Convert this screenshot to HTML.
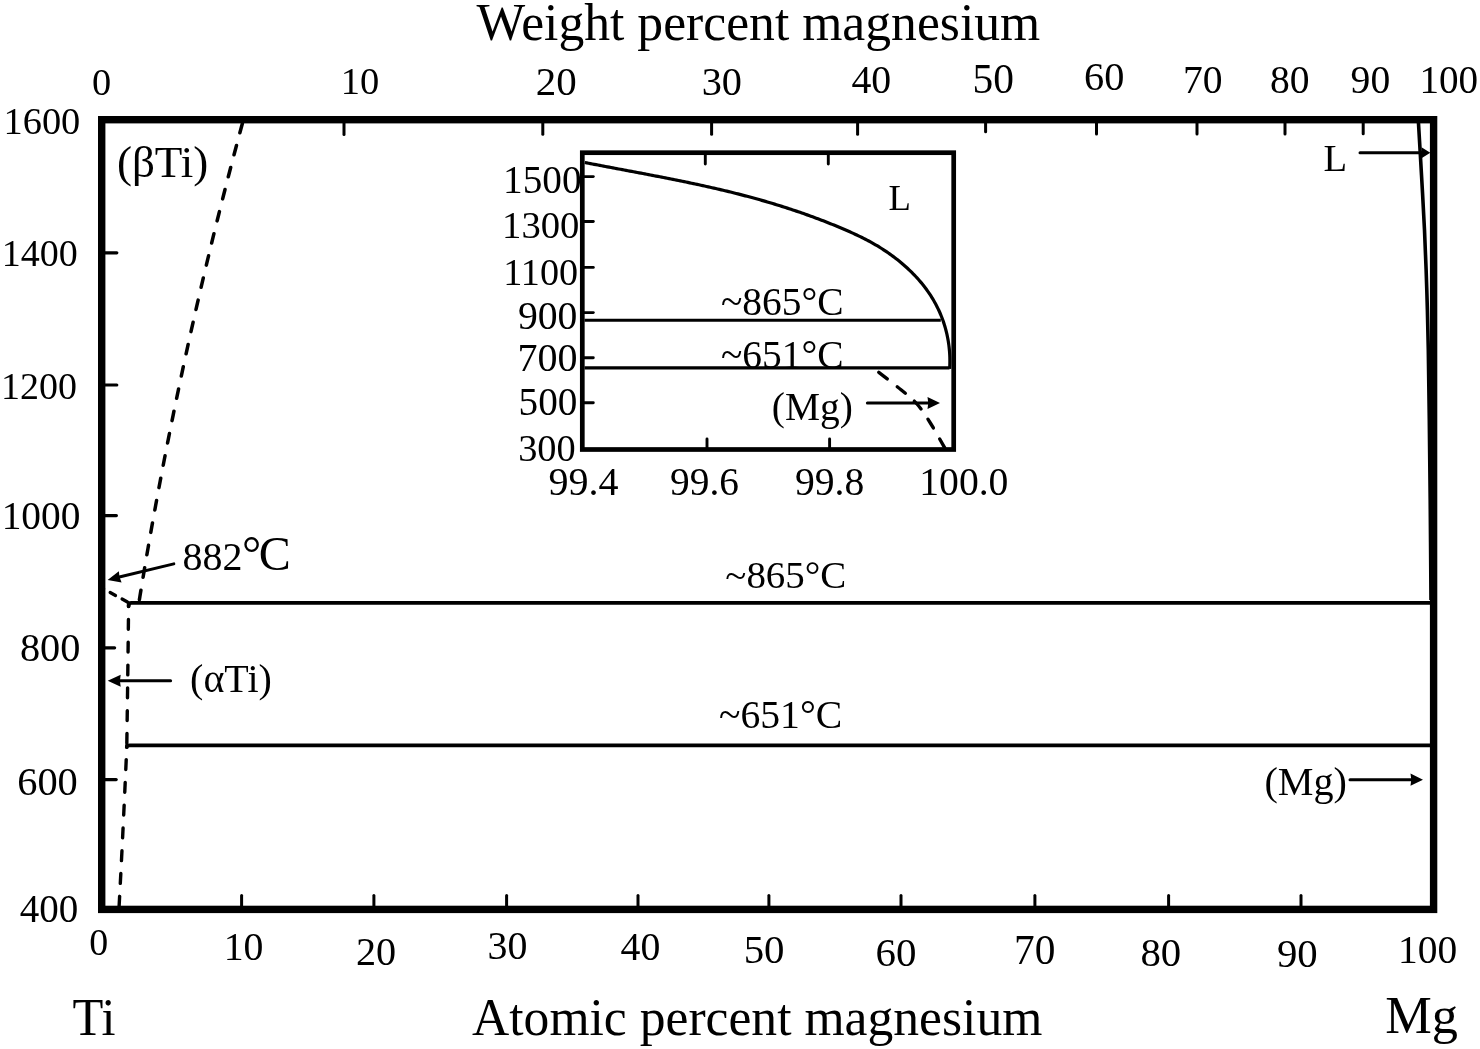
<!DOCTYPE html>
<html><head><meta charset="utf-8"><title>Ti-Mg phase diagram</title>
<style>html,body{margin:0;padding:0;background:#fff;} svg{display:block;}</style></head>
<body>
<svg width="1480" height="1049" viewBox="0 0 1480 1049">
<rect width="1480" height="1049" fill="#fff"/>
<g stroke="#000" fill="#000" font-family="Liberation Serif, Times New Roman, serif">
<line x1="104.00" y1="252.80" x2="116.80" y2="252.80" stroke-width="3.2" stroke-linecap="round" />
<line x1="104.00" y1="385.00" x2="116.80" y2="385.00" stroke-width="3.2" stroke-linecap="round" />
<line x1="104.00" y1="515.60" x2="116.40" y2="515.60" stroke-width="3.2" stroke-linecap="round" />
<line x1="104.00" y1="647.80" x2="114.60" y2="647.80" stroke-width="3.2" stroke-linecap="round" />
<line x1="104.00" y1="779.60" x2="116.20" y2="779.60" stroke-width="3.2" stroke-linecap="round" />
<line x1="344.00" y1="122.00" x2="344.00" y2="134.50" stroke-width="3.0" stroke-linecap="round" />
<line x1="542.80" y1="122.00" x2="542.80" y2="134.30" stroke-width="3.0" stroke-linecap="round" />
<line x1="711.60" y1="122.00" x2="711.60" y2="134.30" stroke-width="3.0" stroke-linecap="round" />
<line x1="857.60" y1="122.00" x2="857.60" y2="134.30" stroke-width="3.0" stroke-linecap="round" />
<line x1="985.60" y1="122.00" x2="985.60" y2="131.80" stroke-width="3.0" stroke-linecap="round" />
<line x1="1096.50" y1="122.00" x2="1096.50" y2="134.00" stroke-width="3.0" stroke-linecap="round" />
<line x1="1197.00" y1="122.00" x2="1197.00" y2="134.00" stroke-width="3.0" stroke-linecap="round" />
<line x1="1285.00" y1="122.00" x2="1285.00" y2="134.00" stroke-width="3.0" stroke-linecap="round" />
<line x1="1363.20" y1="122.00" x2="1363.20" y2="133.80" stroke-width="3.0" stroke-linecap="round" />
<line x1="241.60" y1="907.00" x2="241.60" y2="895.50" stroke-width="3.0" stroke-linecap="round" />
<line x1="373.90" y1="907.00" x2="373.90" y2="895.50" stroke-width="3.0" stroke-linecap="round" />
<line x1="506.60" y1="907.00" x2="506.60" y2="895.50" stroke-width="3.0" stroke-linecap="round" />
<line x1="638.00" y1="907.00" x2="638.00" y2="895.50" stroke-width="3.0" stroke-linecap="round" />
<line x1="768.90" y1="907.00" x2="768.90" y2="895.50" stroke-width="3.0" stroke-linecap="round" />
<line x1="901.00" y1="907.00" x2="901.00" y2="895.50" stroke-width="3.0" stroke-linecap="round" />
<line x1="1034.90" y1="907.00" x2="1034.90" y2="895.50" stroke-width="3.0" stroke-linecap="round" />
<line x1="1168.60" y1="907.00" x2="1168.60" y2="895.50" stroke-width="3.0" stroke-linecap="round" />
<line x1="1301.00" y1="907.00" x2="1301.00" y2="895.50" stroke-width="3.0" stroke-linecap="round" />
<path d="M1431,602.9 L131.5,602.9 Q128.6,602.9 128.6,606.2" fill="none" stroke-width="3.8" stroke-linecap="round" stroke-linejoin="round"/>
<path d="M1431,745.3 L129.8,745.3 Q126.8,745.3 126.8,747.2" fill="none" stroke-width="3.8" stroke-linecap="round" stroke-linejoin="round"/>
<path d="M128.62,603.10 L128.60,604.29 L128.59,605.49 L128.58,606.68 L128.57,607.88 L128.55,609.07 L128.54,610.27 L128.53,611.46 L128.51,612.65 L128.50,613.85 L128.49,615.04 L128.48,616.24 L128.46,617.43 L128.45,618.62 L128.44,619.82 L128.42,621.01 L128.41,622.21 L128.40,623.40 L128.38,624.59 L128.37,625.79 L128.36,626.98 L128.34,628.18 L128.33,629.37 L128.32,630.57 L128.30,631.76 L128.29,632.95 L128.28,634.15 L128.26,635.34 L128.25,636.54 L128.23,637.73 L128.22,638.92 L128.21,640.12 L128.19,641.31 L128.18,642.51 L128.16,643.70 L128.15,644.90 L128.14,646.09 L128.12,647.28 L128.11,648.48 L128.09,649.67 L128.08,650.87 L128.06,652.06 L128.05,653.25 L128.04,654.45 L128.02,655.64 L128.01,656.84 L127.99,658.03 L127.98,659.22 L127.96,660.42 L127.95,661.61 L127.93,662.81 L127.92,664.00 L127.90,665.20 L127.89,666.39 L127.87,667.58 L127.86,668.78 L127.84,669.97 L127.83,671.17 L127.81,672.36 L127.80,673.55 L127.78,674.75 L127.77,675.94 L127.75,677.14 L127.74,678.33 L127.72,679.52 L127.70,680.72 L127.69,681.91 L127.67,683.11 L127.66,684.30 L127.64,685.50 L127.63,686.69 L127.61,687.88 L127.59,689.08 L127.58,690.27 L127.56,691.47 L127.55,692.66 L127.53,693.85 L127.51,695.05 L127.50,696.24 L127.48,697.44 L127.47,698.63 L127.45,699.82 L127.43,701.02 L127.42,702.21 L127.40,703.41 L127.38,704.60 L127.37,705.79 L127.35,706.99 L127.33,708.18 L127.32,709.38 L127.30,710.57 L127.28,711.77 L127.27,712.96 L127.25,714.15 L127.23,715.35 L127.22,716.54 L127.20,717.74 L127.18,718.93 L127.16,720.12 L127.15,721.32 L127.13,722.51 L127.11,723.71 L127.10,724.90 L127.08,726.09 L127.06,727.29 L127.04,728.48 L127.03,729.68 L127.01,730.87 L126.99,732.07 L126.97,733.26 L126.95,734.45 L126.94,735.65 L126.92,736.84 L126.90,738.04 L126.88,739.23 L126.87,740.42 L126.85,741.62 L126.83,742.81 L126.81,744.01 L126.79,745.20" fill="none" stroke-width="3.4" stroke-dasharray="9.8 13" stroke-linecap="round" stroke-dashoffset="6.4"/>
<path d="M126.85,745.20 L126.79,746.58 L126.73,747.95 L126.67,749.33 L126.61,750.71 L126.55,752.09 L126.49,753.46 L126.43,754.84 L126.37,756.22 L126.31,757.59 L126.25,758.97 L126.19,760.35 L126.13,761.72 L126.07,763.10 L126.01,764.48 L125.94,765.85 L125.88,767.23 L125.82,768.61 L125.76,769.98 L125.70,771.36 L125.64,772.74 L125.58,774.11 L125.52,775.49 L125.45,776.87 L125.39,778.24 L125.33,779.62 L125.27,781.00 L125.20,782.37 L125.14,783.75 L125.08,785.13 L125.02,786.50 L124.95,787.88 L124.89,789.26 L124.83,790.63 L124.77,792.01 L124.70,793.39 L124.64,794.76 L124.57,796.14 L124.51,797.52 L124.45,798.89 L124.38,800.27 L124.32,801.65 L124.26,803.02 L124.19,804.40 L124.13,805.78 L124.06,807.15 L124.00,808.53 L123.93,809.91 L123.87,811.28 L123.80,812.66 L123.74,814.03 L123.67,815.41 L123.61,816.79 L123.54,818.16 L123.48,819.54 L123.41,820.92 L123.35,822.29 L123.28,823.67 L123.21,825.05 L123.15,826.42 L123.08,827.80 L123.01,829.18 L122.95,830.55 L122.88,831.93 L122.81,833.31 L122.75,834.68 L122.68,836.06 L122.61,837.44 L122.55,838.81 L122.48,840.19 L122.41,841.56 L122.34,842.94 L122.28,844.32 L122.21,845.69 L122.14,847.07 L122.07,848.45 L122.00,849.82 L121.94,851.20 L121.87,852.58 L121.80,853.95 L121.73,855.33 L121.66,856.71 L121.59,858.08 L121.52,859.46 L121.45,860.83 L121.38,862.21 L121.32,863.59 L121.25,864.96 L121.18,866.34 L121.11,867.72 L121.04,869.09 L120.97,870.47 L120.90,871.84 L120.83,873.22 L120.76,874.60 L120.69,875.97 L120.61,877.35 L120.54,878.73 L120.47,880.10 L120.40,881.48 L120.33,882.86 L120.26,884.23 L120.19,885.61 L120.12,886.98 L120.05,888.36 L119.97,889.74 L119.90,891.11 L119.83,892.49 L119.76,893.87 L119.69,895.24 L119.61,896.62 L119.54,897.99 L119.47,899.37 L119.40,900.75 L119.32,902.12 L119.25,903.50 L119.18,904.87 L119.10,906.25 L119.03,907.63 L118.96,909.00" fill="none" stroke-width="3.4" stroke-dasharray="9.8 13" stroke-linecap="round" stroke-dashoffset="8.3"/>
<path d="M242.39,123.50 L240.75,129.56 L239.12,135.63 L237.50,141.69 L235.89,147.75 L234.28,153.82 L232.69,159.88 L231.10,165.94 L229.52,172.01 L227.95,178.07 L226.39,184.13 L224.84,190.20 L223.29,196.26 L221.76,202.32 L220.23,208.39 L218.71,214.45 L217.20,220.51 L215.70,226.58 L214.20,232.64 L212.72,238.70 L211.24,244.77 L209.77,250.83 L208.31,256.89 L206.86,262.96 L205.41,269.02 L203.98,275.08 L202.55,281.15 L201.13,287.21 L199.72,293.27 L198.32,299.34 L196.92,305.40 L195.54,311.46 L194.16,317.53 L192.79,323.59 L191.43,329.65 L190.08,335.72 L188.74,341.78 L187.40,347.84 L186.08,353.91 L184.76,359.97 L183.45,366.03 L182.15,372.09 L180.86,378.16 L179.57,384.22 L178.30,390.28 L177.03,396.35 L175.77,402.41 L174.52,408.47 L173.27,414.54 L172.04,420.60 L170.81,426.66 L169.60,432.73 L168.39,438.79 L167.19,444.85 L166.00,450.92 L164.81,456.98 L163.64,463.04 L162.47,469.11 L161.31,475.17 L160.16,481.23 L159.02,487.30 L157.89,493.36 L156.76,499.42 L155.64,505.49 L154.54,511.55 L153.44,517.61 L152.34,523.68 L151.26,529.74 L150.19,535.80 L149.12,541.87 L148.06,547.93 L147.01,553.99 L145.97,560.06 L144.94,566.12 L143.92,572.18 L142.90,578.25 L141.89,584.31 L140.89,590.37 L139.90,596.44 L138.92,602.50" fill="none" stroke-width="3.5" stroke-dasharray="9.6 13.15" stroke-dashoffset="22.7" stroke-linecap="round"/>
<path d="M101,587.5 L128.4,602.5" fill="none" stroke-width="3.3" stroke-dasharray="6.1 7.5" stroke-dashoffset="3.15" stroke-linecap="round"/>
<path d="M1418.30,120.00 C1418.83,129.17 1420.47,156.67 1421.50,175.00 C1422.53,193.33 1423.62,210.83 1424.50,230.00 C1425.38,249.17 1426.17,270.00 1426.80,290.00 C1427.43,310.00 1427.88,328.33 1428.30,350.00 C1428.72,371.67 1428.98,395.00 1429.30,420.00 C1429.62,445.00 1429.92,470.00 1430.20,500.00 C1430.48,530.00 1430.87,583.33 1431.00,600.00" fill="none" stroke-width="3.6" stroke-linecap="butt"/>
<line x1="173.80" y1="563.90" x2="118.29" y2="577.32" stroke-width="3.0" stroke-linecap="round" />
<polygon points="107.60,579.90 118.87,571.21 119.48,577.03 121.60,582.48" stroke="none" fill="#000"/>
<line x1="170.60" y1="680.80" x2="118.70" y2="680.80" stroke-width="3.0" stroke-linecap="round" />
<polygon points="107.70,680.80 120.70,674.80 119.92,680.80 120.70,686.80" stroke="none" fill="#000"/>
<line x1="1360.00" y1="152.70" x2="1423.50" y2="152.70" stroke-width="3.0" stroke-linecap="round" />
<polygon points="1430.30,152.70 1421.50,158.20 1422.03,152.70 1421.50,147.20" stroke="none" fill="#000"/>
<line x1="1350.00" y1="779.70" x2="1412.50" y2="779.70" stroke-width="3.0" stroke-linecap="round" />
<polygon points="1423.00,779.70 1410.50,785.80 1411.25,779.70 1410.50,773.60" stroke="none" fill="#000"/>
<rect x="101.7" y="119.7" width="1331.90" height="789.70" fill="none" stroke-width="7.4" stroke-linejoin="miter"/>
<rect x="585" y="155" width="366" height="292" fill="#fff" stroke="none"/>
<line x1="583.00" y1="176.60" x2="593.30" y2="176.60" stroke-width="2.9" stroke-linecap="round" />
<line x1="583.00" y1="221.50" x2="593.30" y2="221.50" stroke-width="2.9" stroke-linecap="round" />
<line x1="583.00" y1="267.40" x2="593.30" y2="267.40" stroke-width="2.9" stroke-linecap="round" />
<line x1="583.00" y1="312.60" x2="593.30" y2="312.60" stroke-width="2.9" stroke-linecap="round" />
<line x1="583.00" y1="357.80" x2="593.30" y2="357.80" stroke-width="2.9" stroke-linecap="round" />
<line x1="583.00" y1="402.70" x2="593.30" y2="402.70" stroke-width="2.9" stroke-linecap="round" />
<line x1="705.30" y1="154.00" x2="705.30" y2="164.00" stroke-width="2.9" stroke-linecap="round" />
<line x1="828.30" y1="154.00" x2="828.30" y2="164.00" stroke-width="2.9" stroke-linecap="round" />
<line x1="707.00" y1="448.00" x2="707.00" y2="439.00" stroke-width="2.9" stroke-linecap="round" />
<line x1="829.60" y1="448.00" x2="829.60" y2="439.00" stroke-width="2.9" stroke-linecap="round" />
<line x1="584.50" y1="320.30" x2="940.80" y2="320.30" stroke-width="3.1" stroke-linecap="butt" />
<line x1="584.50" y1="367.90" x2="949.50" y2="367.90" stroke-width="3.1" stroke-linecap="butt" />
<path d="M584.83,162.52 L586.70,162.89 L588.57,163.25 L590.44,163.61 L592.32,163.97 L594.19,164.33 L596.06,164.69 L597.94,165.05 L599.81,165.41 L601.68,165.76 L603.56,166.12 L605.43,166.48 L607.31,166.83 L609.18,167.18 L611.05,167.54 L612.93,167.89 L614.80,168.25 L616.68,168.60 L618.55,168.95 L620.43,169.30 L622.30,169.66 L624.18,170.01 L626.05,170.36 L627.93,170.72 L629.80,171.07 L631.68,171.42 L633.55,171.78 L635.43,172.13 L637.30,172.48 L639.18,172.84 L641.05,173.19 L642.92,173.55 L644.80,173.91 L646.67,174.26 L648.55,174.62 L650.42,174.98 L652.29,175.34 L654.17,175.70 L656.04,176.06 L657.91,176.43 L659.78,176.79 L661.65,177.16 L663.53,177.52 L665.40,177.89 L667.27,178.26 L669.14,178.63 L671.01,179.00 L672.88,179.38 L674.75,179.75 L676.62,180.13 L678.48,180.51 L680.35,180.89 L682.22,181.27 L684.09,181.66 L685.95,182.04 L687.82,182.43 L689.68,182.82 L691.55,183.21 L693.41,183.61 L695.28,184.01 L697.14,184.41 L699.00,184.81 L700.86,185.21 L702.72,185.62 L704.58,186.03 L706.44,186.44 L708.30,186.86 L710.16,187.28 L712.02,187.70 L713.87,188.12 L715.73,188.55 L717.59,188.98 L719.44,189.41 L721.29,189.85 L723.15,190.28 L725.00,190.73 L726.85,191.17 L728.70,191.62 L730.55,192.07 L732.40,192.53 L734.24,192.99 L736.09,193.45 L737.94,193.92 L739.78,194.39 L741.62,194.87 L743.47,195.34 L745.31,195.83 L747.15,196.31 L748.99,196.80 L750.83,197.30 L752.66,197.80 L754.50,198.30 L756.33,198.81 L758.17,199.32 L760.00,199.83 L761.83,200.35 L763.66,200.88 L765.49,201.41 L767.32,201.94 L769.15,202.48 L770.97,203.02 L772.80,203.57 L774.62,204.12 L776.44,204.68 L778.26,205.24 L780.08,205.81 L781.90,206.38 L783.71,206.95 L785.53,207.53 L787.34,208.12 L789.15,208.71 L790.96,209.30 L792.77,209.90 L794.58,210.50 L796.39,211.11 L798.19,211.73 L800.00,212.35 L801.80,212.97 L803.60,213.60 L805.40,214.23 L807.19,214.87 L808.99,215.52 L810.78,216.17 L812.58,216.82 L814.37,217.48 L816.16,218.14 L817.94,218.82 L819.73,219.49 L821.51,220.17 L823.30,220.86 L825.08,221.55 L826.86,222.24 L828.64,222.95 L830.41,223.65 L832.18,224.37 L833.96,225.09 L835.73,225.81 L837.50,226.54 L839.26,227.27 L841.03,228.01 L842.79,228.76 L844.55,229.51 L846.31,230.27 L848.06,231.04 L849.82,231.82 L851.56,232.60 L853.31,233.39 L855.05,234.19 L856.78,235.01 L858.51,235.83 L860.23,236.67 L861.95,237.51 L863.66,238.37 L865.37,239.24 L867.07,240.13 L868.76,241.03 L870.44,241.94 L872.12,242.87 L873.79,243.81 L875.45,244.77 L877.10,245.74 L878.74,246.73 L880.37,247.74 L882.00,248.76 L883.61,249.80 L885.21,250.85 L886.80,251.92 L888.38,253.00 L889.95,254.10 L891.51,255.22 L893.05,256.35 L894.58,257.49 L896.10,258.65 L897.60,259.83 L899.09,261.02 L900.57,262.22 L902.03,263.45 L903.47,264.68 L904.90,265.94 L906.32,267.20 L907.72,268.49 L909.10,269.79 L910.47,271.10 L911.81,272.43 L913.15,273.77 L914.46,275.13 L915.75,276.50 L917.03,277.89 L918.29,279.30 L919.53,280.72 L920.75,282.15 L921.95,283.60 L923.12,285.07 L924.28,286.55 L925.42,288.04 L926.53,289.55 L927.63,291.08 L928.70,292.62 L929.75,294.17 L930.77,295.74 L931.77,297.33 L932.75,298.93 L933.71,300.54 L934.64,302.17 L935.54,303.82 L936.42,305.48 L937.28,307.15 L938.11,308.84 L938.91,310.54 L939.69,312.26 L940.44,313.99 L941.16,315.74 L941.86,317.50 L942.52,319.28 L943.16,321.07 L943.77,322.87 L944.36,324.69 L944.91,326.52 L945.44,328.36 L945.94,330.21 L946.41,332.07 L946.85,333.94 L947.26,335.82 L947.64,337.71 L948.00,339.61 L948.32,341.52 L948.61,343.44 L948.88,345.37 L949.11,347.30 L949.31,349.24 L949.48,351.19 L949.63,353.14 L949.74,355.10 L949.82,357.07 L949.86,359.04 L949.88,361.01 L949.87,362.99 L949.82,364.97 L949.74,366.96 L949.63,368.95" fill="none" stroke-width="3.2" stroke-linecap="butt" stroke-linejoin="round"/>
<path d="M877.00,371.00 C881.00,374.12 894.33,384.25 901.00,389.75 C907.67,395.25 912.08,398.42 917.00,404.00 C921.92,409.58 925.87,415.92 930.50,423.25 C935.13,430.58 942.42,443.88 944.80,448.00" fill="none" stroke-width="3.4" stroke-dasharray="10.3 12.4" stroke-dashoffset="-2.7" stroke-linecap="round"/>
<line x1="867.40" y1="403.00" x2="929.50" y2="403.00" stroke-width="3.0" stroke-linecap="round" />
<polygon points="940.00,403.00 927.50,409.00 928.25,403.00 927.50,397.00" stroke="none" fill="#000"/>
<rect x="582.3" y="152.7" width="371.40" height="296.80" fill="none" stroke-width="4.7"/>
<text stroke="none" transform="translate(476.60,40.40) scale(1,1.035)" font-size="51.65" >Weight percent magnesium</text>
<text stroke="none" transform="translate(471.98,1034.90) scale(1,1.035)" font-size="51.62" >Atomic percent magnesium</text>
<text stroke="none" transform="translate(72.52,1035.30) scale(1,1.060)" font-size="50.52" >Ti</text>
<text stroke="none" x="1385.26" y="1033.20" font-size="52.36" >Mg</text>
<text stroke="none" x="92.11" y="94.62" font-size="38.37" >0</text>
<text stroke="none" x="340.83" y="93.61" font-size="38.51" >10</text>
<text stroke="none" x="535.86" y="94.69" font-size="40.98" >20</text>
<text stroke="none" x="701.68" y="94.70" font-size="40.33" >30</text>
<text stroke="none" x="851.40" y="93.10" font-size="39.79" >40</text>
<text stroke="none" x="972.42" y="93.09" font-size="41.44" >50</text>
<text stroke="none" x="1083.99" y="89.50" font-size="40.33" >60</text>
<text stroke="none" x="1183.08" y="93.00" font-size="39.56" >70</text>
<text stroke="none" x="1270.02" y="93.00" font-size="39.56" >80</text>
<text stroke="none" x="1350.62" y="93.00" font-size="39.56" >90</text>
<text stroke="none" x="1419.49" y="93.21" font-size="39.11" >100</text>
<text stroke="none" x="3.54" y="133.92" font-size="38.40" >1600</text>
<text stroke="none" x="1.77" y="266.12" font-size="38.03" >1400</text>
<text stroke="none" x="0.98" y="398.72" font-size="37.97" >1200</text>
<text stroke="none" x="1.66" y="528.61" font-size="39.36" >1000</text>
<text stroke="none" x="19.89" y="660.80" font-size="40.35" >800</text>
<text stroke="none" x="17.18" y="794.60" font-size="40.42" >600</text>
<text stroke="none" x="19.72" y="921.71" font-size="39.03" >400</text>
<text stroke="none" x="89.37" y="955.02" font-size="37.93" >0</text>
<text stroke="none" x="223.72" y="959.70" font-size="39.77" >10</text>
<text stroke="none" x="355.89" y="964.60" font-size="40.22" >20</text>
<text stroke="none" x="487.61" y="958.50" font-size="39.89" >30</text>
<text stroke="none" x="620.60" y="959.70" font-size="39.79" >40</text>
<text stroke="none" x="743.65" y="963.39" font-size="40.88" >50</text>
<text stroke="none" x="875.56" y="965.79" font-size="40.98" >60</text>
<text stroke="none" x="1014.01" y="964.29" font-size="41.34" >70</text>
<text stroke="none" x="1140.47" y="966.09" font-size="40.76" >80</text>
<text stroke="none" x="1276.98" y="966.59" font-size="40.75" >90</text>
<text stroke="none" x="1398.05" y="963.41" font-size="39.42" >100</text>
<text stroke="none" x="503.07" y="193.21" font-size="39.25" >1500</text>
<text stroke="none" x="502.12" y="237.61" font-size="38.67" >1300</text>
<text stroke="none" x="503.16" y="284.82" font-size="38.15" >1100</text>
<text stroke="none" x="517.91" y="328.50" font-size="39.65" >900</text>
<text stroke="none" x="517.40" y="370.60" font-size="40.00" >700</text>
<text stroke="none" x="518.55" y="415.21" font-size="39.22" >500</text>
<text stroke="none" x="518.18" y="460.62" font-size="38.37" >300</text>
<text stroke="none" x="548.40" y="494.60" font-size="40.00" >99.4</text>
<text stroke="none" x="670.12" y="494.61" font-size="39.35" >99.6</text>
<text stroke="none" x="794.91" y="494.61" font-size="39.58" >99.8</text>
<text stroke="none" x="919.23" y="494.60" font-size="39.67" >100.0</text>
<text stroke="none" x="116.88" y="177.00" font-size="45.10" >(βTi)</text>
<text stroke="none" x="190.10" y="691.70" font-size="40.00" >(αTi)</text>
<text stroke="none" x="725.33" y="588.11" font-size="38.94" >~865°C</text>
<text stroke="none" x="719.01" y="728.10" font-size="39.67" >~651°C</text>
<text stroke="none" x="1264.49" y="794.60" font-size="40.15" >(Mg)</text>
<text stroke="none" x="1323.44" y="170.80" font-size="38.66" >L</text>
<text stroke="none" x="888.39" y="209.60" font-size="36.75" >L</text>
<text stroke="none" x="720.91" y="314.91" font-size="39.47" >~865°C</text>
<text stroke="none" x="720.91" y="367.60" font-size="39.47" >~651°C</text>
<text stroke="none" x="771.82" y="419.50" font-size="39.44" >(Mg)</text>
<text stroke="none" x="182.55" y="570.00" font-size="39.96" >882</text>
<text stroke="none" x="241.9" y="570" font-size="48">°</text>
<text stroke="none" x="258.8" y="570" font-size="48">C</text>
</g>
</svg>
</body></html>
